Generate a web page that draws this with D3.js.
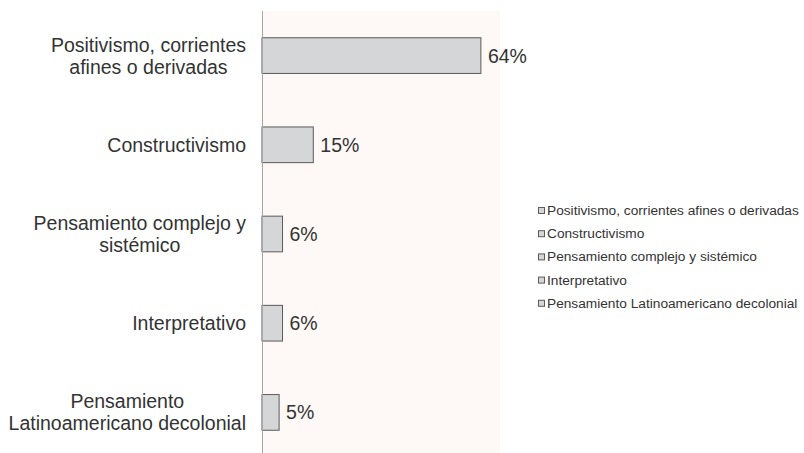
<!DOCTYPE html>
<html>
<head>
<meta charset="utf-8">
<script src="https://cdn.jsdelivr.net/npm/d3@7"></script>
<style>
  body { margin: 0; background: #fff; }
  svg { display: block; font-family: "Liberation Sans", Arial, sans-serif; }
</style>
</head>
<body>
<div id="chart"></div>
<script>
// data
var categories = [
    'Positivismo, corrientes afines o derivadas',
    'Constructivismo',
    'Pensamiento complejo y sistémico',
    'Interpretativo',
    'Pensamiento Latinoamericano decolonial'
]
// how the axis labels wrap
var axisLabelLines = [
    ['Positivismo, corrientes', 'afines o derivadas'],
    ['Constructivismo'],
    ['Pensamiento complejo y', 'sistémico'],
    ['Interpretativo'],
    ['Pensamiento', 'Latinoamericano decolonial']
]
var shares = [64, 15, 6, 6, 5]

var svgWidth = 804,
    svgHeight = 453

var plot = { left: 262, right: 500, top: 11, bottom: 457 }

var svg = d3.select('#chart').append('svg')
    .attr('width', svgWidth)
    .attr('height', svgHeight)

// plot background
svg.append('rect')
    .attr('x', plot.left)
    .attr('y', plot.top)
    .attr('width', plot.right - plot.left)
    .attr('height', plot.bottom - plot.top)
    .attr('fill', '#fef9f6')

var xScale = d3.scaleLinear()
    .domain([0, 70])
    .range([plot.left, plot.left + 70 * 3.42])

var yScale = d3.scaleBand()
    .domain(categories)
    .range([plot.top, plot.bottom])
    .paddingInner(0.6)
    .paddingOuter(0.3)

var rows = categories.map((c, i) => ({ cat: c, value: shares[i], lines: axisLabelLines[i] }))

// bars
svg.selectAll('rect.bar')
    .data(rows)
    .enter()
    .append('rect')
    .attr('class', 'bar')
    .attr('x', xScale(0))
    .attr('y', d => yScale(d.cat))
    .attr('width', d => xScale(d.value) - xScale(0))
    .attr('height', yScale.bandwidth())
    .attr('fill', '#d5d6d8')
    .attr('stroke', '#5b5b5b')
    .attr('stroke-width', 1)

// value labels
svg.selectAll('text.value')
    .data(rows)
    .enter()
    .append('text')
    .attr('class', 'value')
    .attr('x', d => xScale(d.value) + 7)
    .attr('y', d => yScale(d.cat) + yScale.bandwidth() / 2)
    .attr('dy', '0.36em')
    .attr('font-size', 19.5)
    .attr('fill', '#333')
    .text(d => d.value + '%')

// vertical axis line
svg.append('line')
    .attr('x1', plot.left + 0.5)
    .attr('x2', plot.left + 0.5)
    .attr('y1', plot.top)
    .attr('y2', svgHeight)
    .attr('stroke', '#a6a6a6')
    .attr('stroke-width', 1)

// category labels: block right aligned, lines centred inside the block
var labelRight = 246,
    lineHeight = 22

rows.forEach(d => {
    var g = svg.append('g')
    var texts = d.lines.map(line => g.append('text')
        .attr('font-size', 19.5)
        .attr('fill', '#333')
        .attr('text-anchor', 'middle')
        .text(line))
    var maxW = d3.max(texts, t => t.node().getComputedTextLength())
    var cx = labelRight - maxW / 2
    var cy = yScale(d.cat) + yScale.bandwidth() / 2
    texts.forEach((t, j) => {
        t.attr('x', cx)
            .attr('y', cy + (j - (d.lines.length - 1) / 2) * lineHeight)
            .attr('dy', '0.36em')
    })
})

// legend
var legend = svg.append('g')
    .attr('transform', 'translate(538,210)')

var items = legend.selectAll('g')
    .data(categories)
    .enter()
    .append('g')
    .attr('transform', (d, i) => 'translate(0,' + i * 23.2 + ')')

items.append('rect')
    .attr('x', 0.5)
    .attr('y', -2.5)
    .attr('width', 6)
    .attr('height', 6)
    .attr('fill', '#d5d6d8')
    .attr('stroke', '#5b5b5b')

items.append('text')
    .attr('x', 9)
    .attr('dy', '0.36em')
    .attr('font-size', 13.7)
    .attr('fill', '#333')
    .text(d => d)
</script>
</body>
</html>
